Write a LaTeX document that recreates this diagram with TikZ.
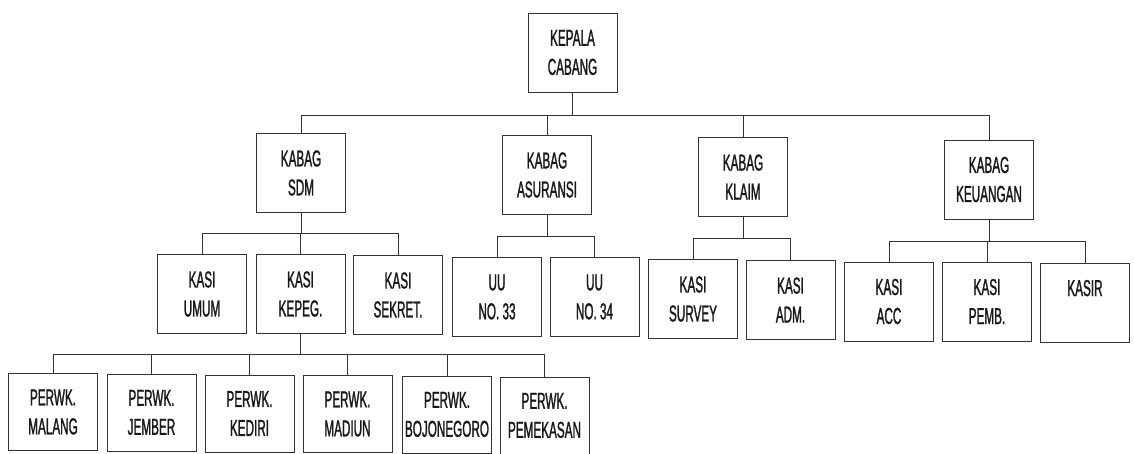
\documentclass[tikz,border=0pt]{standalone}
\usepackage{fontspec}
\setmainfont{Liberation Sans}[FakeStretch=0.51,FakeBold=1.2]
\begin{document}
\begin{tikzpicture}[x=1pt,y=-1pt,
  unit/.style={draw=black!80, line width=0.8pt, fill=white, minimum width=89pt, minimum height=79pt,
    inner sep=0pt, align=center, text=black!90, font=\fontsize{23}{29}\selectfont},
  branch/.style={unit, minimum height=77pt},
  link/.style={draw=black!80, line width=0.8pt}]
\useasboundingbox (0,0) rectangle (1134,454);
% level 0
\node[unit] (kc) at (572.5,52.5) {KEPALA\\CABANG};
% level 1
\node[unit] (sdm) at (301,173) {KABAG\\SDM};
\node[unit] (asr) at (547,175) {KABAG\\ASURANSI};
\node[unit] (klm) at (743,177) {KABAG\\KLAIM};
\node[unit] (keu) at (989,179.5) {KABAG\\KEUANGAN};
% level 2
\node[unit] (umum) at (202,294) {KASI\\UMUM};
\node[unit] (kepeg) at (300.5,294) {KASI\\KEPEG.};
\node[unit] (sekret) at (398,295) {KASI\\SEKRET.};
\node[unit] (uu33) at (497,297) {UU\\NO. 33};
\node[unit] (uu34) at (594.5,297) {UU\\NO. 34};
\node[unit] (survey) at (693,299) {KASI\\SURVEY};
\node[unit] (adm) at (790.5,300) {KASI\\ADM.};
\node[unit] (acc) at (889,301.5) {KASI\\ACC};
\node[unit] (pemb) at (987,301.5) {KASI\\PEMB.};
\node[unit] (kasir) at (1085,302.5) {KASIR\\\phantom{K}};
% level 3
\node[branch] (malang) at (53,412) {PERWK.\\MALANG};
\node[branch] (jember) at (151.5,412.5) {PERWK.\\JEMBER};
\node[branch] (kediri) at (249.5,413.5) {PERWK.\\KEDIRI};
\node[branch] (madiun) at (347.5,414) {PERWK.\\MADIUN};
\node[branch] (bojo) at (447,414.5) {PERWK.\\BOJONEGORO};
\node[branch] (peme) at (544.5,415.5) {PERWK.\\PEMEKASAN};
% bus levels
\coordinate (b0) at (0,115);
\coordinate (b1) at (0,233);
\coordinate (b2) at (0,236);
\coordinate (b3) at (0,238);
\coordinate (b4) at (0,241);
\coordinate (b5) at (0,354);
% connectors
\foreach \c in {sdm,asr,klm,keu}
  \draw[link] (kc.south) -- (kc.south |- b0) -| (\c.north);
\foreach \c in {umum,kepeg,sekret}
  \draw[link] (sdm.south) -- (sdm.south |- b1) -| (\c.north);
\foreach \c in {uu33,uu34}
  \draw[link] (asr.south) -- (asr.south |- b2) -| (\c.north);
\foreach \c in {survey,adm}
  \draw[link] (klm.south) -- (klm.south |- b3) -| (\c.north);
\foreach \c in {acc,pemb,kasir}
  \draw[link] (keu.south) -- (keu.south |- b4) -| (\c.north);
\foreach \c in {malang,jember,kediri,madiun,bojo,peme}
  \draw[link] (kepeg.south) -- (kepeg.south |- b5) -| (\c.north);
\end{tikzpicture}
\end{document}
